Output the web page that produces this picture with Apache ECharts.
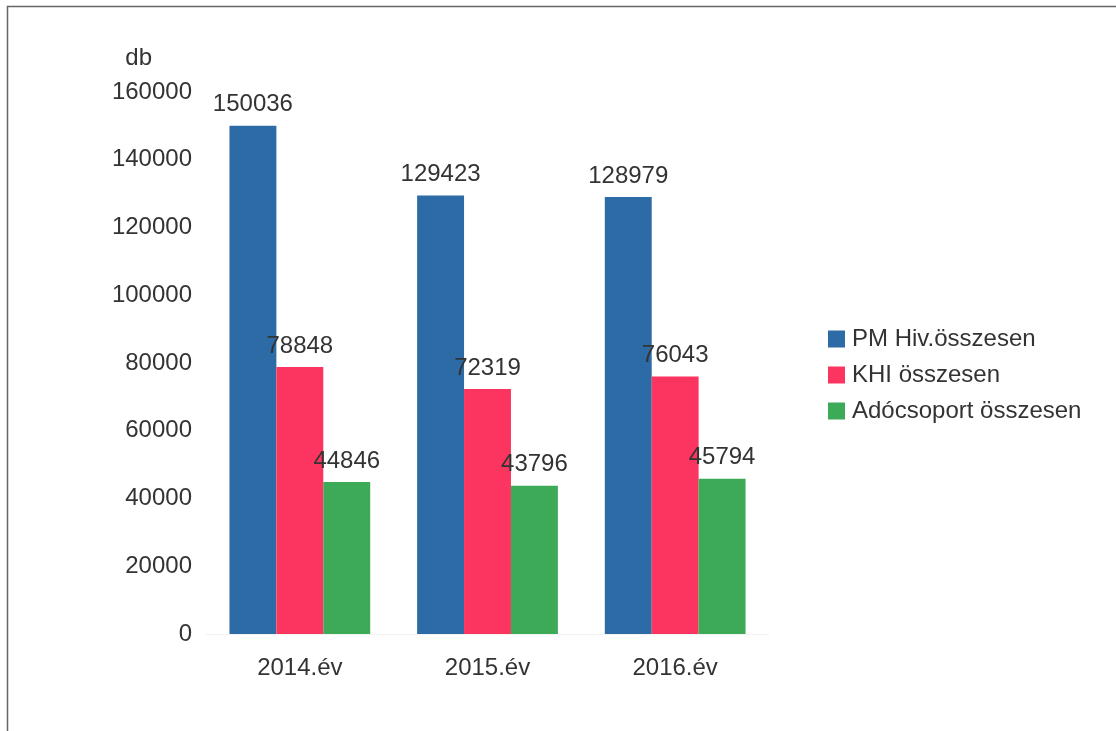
<!DOCTYPE html>
<html>
<head>
<meta charset="utf-8">
<script src="https://cdn.jsdelivr.net/npm/echarts@6/dist/echarts.min.js"></script>
<style>
  html, body { margin: 0; padding: 0; background: #fff; }
  #chart { width: 1116px; height: 731px; }
</style>
</head>
<body>
<div id="chart"></div>
<script>
// kategóriák és adatok
const categories = ['2014.év', '2015.év', '2016.év'];
const seriesNames = ['PM Hiv.összesen', 'KHI összesen', 'Adócsoport összesen'];
const pmValues = [150036, 129423, 128979];
const khiValues = [78848, 72319, 76043];
const adoValues = [44846, 43796, 45794];
const colors = ['#2c6ba6', '#fc3560', '#3daa58'];

const font = 'Liberation Sans, Arial, sans-serif';
const textColor = '#333';
const fontSize = 24;

const chart = echarts.init(document.getElementById('chart'));

function makeSeries(name, data, color) {
    return {
        name: name,
        type: 'bar',
        data: data,
        barGap: 0,
        barCategoryGap: '25%',
        itemStyle: { color: color },
        label: {
            show: true,
            position: 'top',
            distance: 9,
            color: textColor,
            fontSize: fontSize,
            fontFamily: font
        }
    };
}

const option = {
    backgroundColor: '#fff',
    animation: false,
    textStyle: { fontFamily: font },
    // keret
    graphic: [{
        type: 'rect',
        shape: { x: 7.5, y: 6.5, width: 1200, height: 800 },
        style: { fill: 'none', stroke: '#666', lineWidth: 1.5 },
        silent: true
    }],
    grid: {
        left: 206,
        top: 92,
        width: 563,
        height: 542
    },
    legend: {
        orient: 'vertical',
        left: 823,
        top: 322,
        itemWidth: 17,
        itemHeight: 17,
        itemGap: 12,
        icon: 'rect',
        data: seriesNames,
        textStyle: { color: textColor, fontSize: fontSize, fontFamily: font, padding: [0, 0, 0, 2] }
    },
    xAxis: {
        type: 'category',
        data: categories,
        axisLine: { show: true, lineStyle: { color: '#f2f2f2' } },
        axisTick: { show: false },
        axisLabel: { color: textColor, fontSize: fontSize, fontFamily: font, margin: 22 }
    },
    yAxis: {
        type: 'value',
        min: 0,
        max: 160000,
        interval: 20000,
        name: 'db',
        nameLocation: 'end',
        nameGap: 22,
        nameTextStyle: { color: textColor, fontSize: fontSize, fontFamily: font, align: 'right', padding: [0, 54, 0, 0] },
        axisLine: { show: false },
        axisTick: { show: false },
        splitLine: { show: false },
        axisLabel: {
            color: textColor,
            fontSize: fontSize,
            fontFamily: font,
            margin: 14,
            formatter: function (v) { return String(v); }
        }
    },
    series: [
        makeSeries(seriesNames[0], pmValues, colors[0]),
        makeSeries(seriesNames[1], khiValues, colors[1]),
        makeSeries(seriesNames[2], adoValues, colors[2])
    ]
};

chart.setOption(option);
</script>
</body>
</html>
